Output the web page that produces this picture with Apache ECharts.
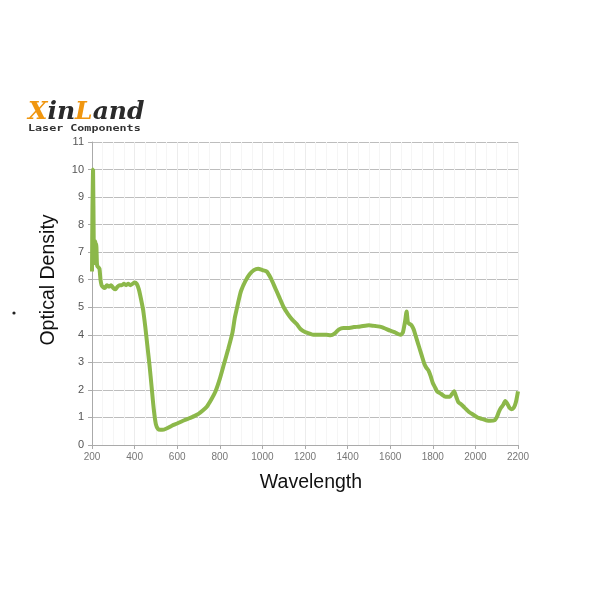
<!DOCTYPE html>
<html><head><meta charset="utf-8">
<script src="https://cdn.jsdelivr.net/npm/echarts@6/dist/echarts.min.js"></script>
<style>html,body{margin:0;padding:0;background:#fff;}#c{width:600px;height:600px;}</style>
</head><body><div id="c"></div>
<script>
const wavelength = [200,202,205,208,210,213,215,218,220,223,225,230,235,240,245,250,260,270,280,290,300,310,320,330,340,350,360,370,380,390,400,410,420,430,440,450,460,470,480,490,500,510,520,530,550,575,600,625,650,680,700,720,740,760,780,800,820,840,860,870,880,890,900,920,940,960,980,1000,1020,1040,1060,1080,1100,1120,1140,1160,1180,1200,1220,1240,1260,1280,1300,1320,1340,1360,1380,1400,1430,1460,1500,1530,1560,1600,1620,1640,1650,1660,1670,1677,1683,1690,1700,1710,1720,1730,1740,1750,1760,1770,1780,1790,1800,1810,1820,1840,1860,1880,1890,1900,1910,1920,1930,1950,1970,1990,2010,2030,2050,2070,2090,2100,2110,2120,2130,2140,2150,2160,2170,2180,2190,2200];
const opticalDensity = [6.3,8.5,10.0,7.5,6.6,6.9,7.4,7.2,7.3,6.6,6.5,6.45,6.4,6.0,5.8,5.75,5.7,5.8,5.75,5.8,5.7,5.65,5.75,5.8,5.8,5.85,5.8,5.85,5.8,5.85,5.9,5.85,5.65,5.3,4.9,4.3,3.6,2.9,2.1,1.3,0.75,0.58,0.55,0.55,0.6,0.7,0.78,0.87,0.95,1.05,1.13,1.25,1.4,1.65,1.95,2.4,2.95,3.5,4.1,4.6,4.95,5.3,5.6,5.95,6.2,6.35,6.4,6.35,6.3,6.05,5.7,5.35,5.0,4.75,4.55,4.4,4.2,4.1,4.05,4.0,4.0,4.0,4.0,3.98,4.05,4.2,4.25,4.25,4.28,4.3,4.35,4.32,4.28,4.15,4.1,4.02,4.0,4.1,4.5,4.85,4.45,4.4,4.35,4.2,3.95,3.7,3.45,3.2,2.95,2.8,2.7,2.5,2.25,2.1,1.95,1.85,1.75,1.75,1.85,1.95,1.75,1.55,1.5,1.35,1.2,1.1,1.0,0.95,0.9,0.88,0.9,1.0,1.2,1.35,1.45,1.6,1.5,1.35,1.3,1.35,1.55,1.95];
const yTicks = [0,1,2,3,4,5,6,7,8,9,10,11];

const chart = echarts.init(document.getElementById('c'));
chart.setOption({
  backgroundColor: '#ffffff',
  animation: false,
  grid: {left: 92, right: 82, top: 142, bottom: 155},
  xAxis: {
    type: 'value', min: 200, max: 2200, interval: 200,
    axisLine: {show: true, lineStyle: {color: '#aaa'}},
    axisTick: {show: true, length: 4, lineStyle: {color: '#aaa'}},
    axisLabel: {fontSize: 10, color: '#777', margin: 7, fontFamily: 'Liberation Sans',
      formatter: v => String(v)},
    splitLine: {show: true, lineStyle: {color: '#ececec'}},
    minorTick: {show: false, splitNumber: 4},
    minorSplitLine: {show: true, lineStyle: {color: '#f5f5f5'}}
  },
  yAxis: {
    type: 'value', min: 0, max: 11, interval: 1,
    axisLine: {show: true, lineStyle: {color: '#aaa'}},
    axisTick: {show: true, length: 4, lineStyle: {color: '#aaa'}},
    axisLabel: {fontSize: 11, color: '#555', margin: 8, fontFamily: 'Liberation Sans',
      formatter: v => yTicks.includes(v) ? String(v) : ''},
    splitLine: {show: true, lineStyle: {color: '#bdbdbd'}}
  },
  graphic: [
    {type: 'circle', shape: {cx: 14, cy: 313, r: 1.6}, style: {fill: '#222'}},
    {type: 'text', x: 49, y: 280, rotation: Math.PI / 2,
      style: {text: 'Optical Density', fontSize: 19.5, fontFamily: 'Liberation Sans', fill: '#111',
        align: 'center', verticalAlign: 'middle'}},
    {type: 'text', x: 311, y: 483,
      style: {text: 'Wavelength', fontSize: 19.5, fontFamily: 'Liberation Sans', fill: '#111',
        align: 'center', verticalAlign: 'middle'}},
    {type: 'text', x: 28, y: 100,
      style: {text: '{x|X}{d|in}{x|L}{d|and}', rich: {
        x: {fontFamily: 'DejaVu Serif', fontStyle: 'italic', fontWeight: 'bold', fontSize: 25, fill: '#f0960f'},
        d: {fontFamily: 'DejaVu Serif', fontStyle: 'italic', fontWeight: 'bold', fontSize: 25, fill: '#2a2a2a'}
      }}},
    {type: 'text', x: 28, y: 124, scaleX: 1.3,
      style: {text: 'Laser Components', fontFamily: 'DejaVu Sans Mono', fontWeight: 'bold', fontSize: 9, fill: '#333'}}
  ],
  series: [{
    type: 'line',
    data: wavelength.map((w, i) => [w, opticalDensity[i]]),
    showSymbol: false,
    smooth: 0.2,
    lineStyle: {color: '#8cb84a', width: 4},
    itemStyle: {color: '#8cb84a'}
  }]
});
</script></body></html>
